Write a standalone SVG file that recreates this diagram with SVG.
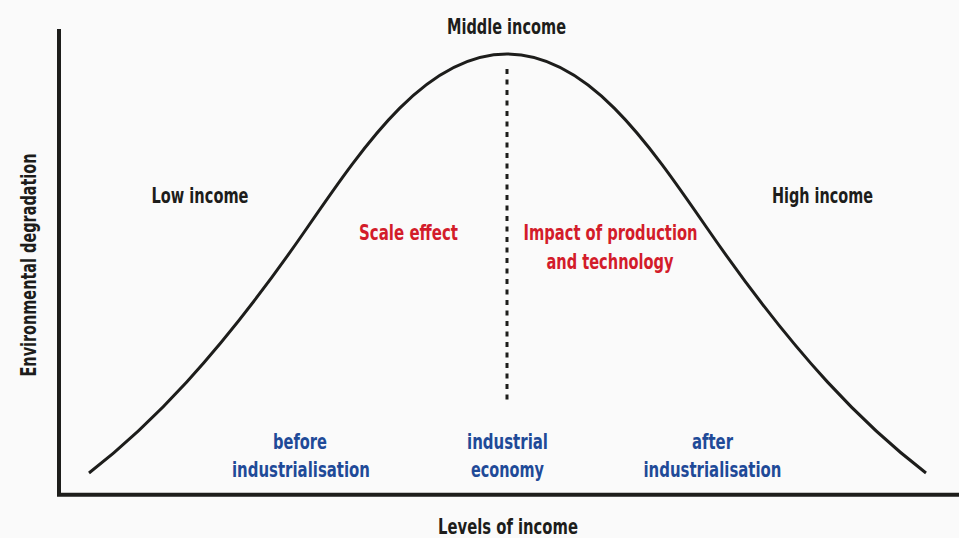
<svg xmlns="http://www.w3.org/2000/svg" width="959" height="538" viewBox="0 0 959 538">
  <style>
    text { font-family: "Liberation Sans Narrow", "DejaVu Sans Condensed", "Liberation Sans", sans-serif; font-weight: bold; font-size: 21px; text-anchor: middle; font-stretch: condensed; }
    .dark { fill: #1d1d1b; }
    .red { fill: #d31c2a; }
    .blue { fill: #1f4a98; }
    .axis { fill: none; stroke: #1d1d1b; stroke-width: 4; stroke-linejoin: miter; }
    .curve { fill: none; stroke: #1d1d1b; stroke-width: 3; stroke-linecap: butt; }
    .divider { fill: none; stroke: #1d1d1b; stroke-width: 3; stroke-dasharray: 5 5.5; }
  </style>
  <rect width="959" height="538" fill="#fafafa"/>

  <g id="axes">
    <path class="axis" d="M59,29 V494.7 H959"/>
  </g>

  <g id="curve">
    <path class="curve" d="M89,473 C149,426.2 217,358.5 307,228 C367,141 427,54 507,54 C587,54 647,141 707,228 C797,358.5 865,426.2 926,473"/>
  </g>

  <g id="divider">
    <line class="divider" x1="507" y1="69" x2="507" y2="400"/>
  </g>

  <g id="income-labels">
    <text class="dark" x="506.5" y="34" textLength="119" lengthAdjust="spacingAndGlyphs">Middle income</text>
    <text class="dark" x="200" y="203" textLength="97" lengthAdjust="spacingAndGlyphs">Low income</text>
    <text class="dark" x="822.5" y="203" textLength="101" lengthAdjust="spacingAndGlyphs">High income</text>
  </g>

  <g id="effect-labels">
    <text class="red" x="408.5" y="240" textLength="99" lengthAdjust="spacingAndGlyphs">Scale effect</text>
    <text class="red" x="610.5" y="240" textLength="174" lengthAdjust="spacingAndGlyphs">Impact of production</text>
    <text class="red" x="610" y="269" textLength="127" lengthAdjust="spacingAndGlyphs">and technology</text>
  </g>

  <g id="stage-labels">
    <text class="blue" x="300" y="449" textLength="54" lengthAdjust="spacingAndGlyphs">before</text>
    <text class="blue" x="301" y="477" textLength="138" lengthAdjust="spacingAndGlyphs">industrialisation</text>
    <text class="blue" x="507.5" y="449" textLength="81" lengthAdjust="spacingAndGlyphs">industrial</text>
    <text class="blue" x="507.5" y="477" textLength="73" lengthAdjust="spacingAndGlyphs">economy</text>
    <text class="blue" x="712.5" y="449" textLength="41" lengthAdjust="spacingAndGlyphs">after</text>
    <text class="blue" x="712.5" y="477" textLength="138" lengthAdjust="spacingAndGlyphs">industrialisation</text>
  </g>

  <g id="axis-titles">
    <text class="dark" x="508" y="534" textLength="140" lengthAdjust="spacingAndGlyphs">Levels of income</text>
    <text class="dark" transform="translate(36,265) rotate(-90)" x="0" y="0" textLength="223" lengthAdjust="spacingAndGlyphs">Environmental degradation</text>
  </g>
</svg>
